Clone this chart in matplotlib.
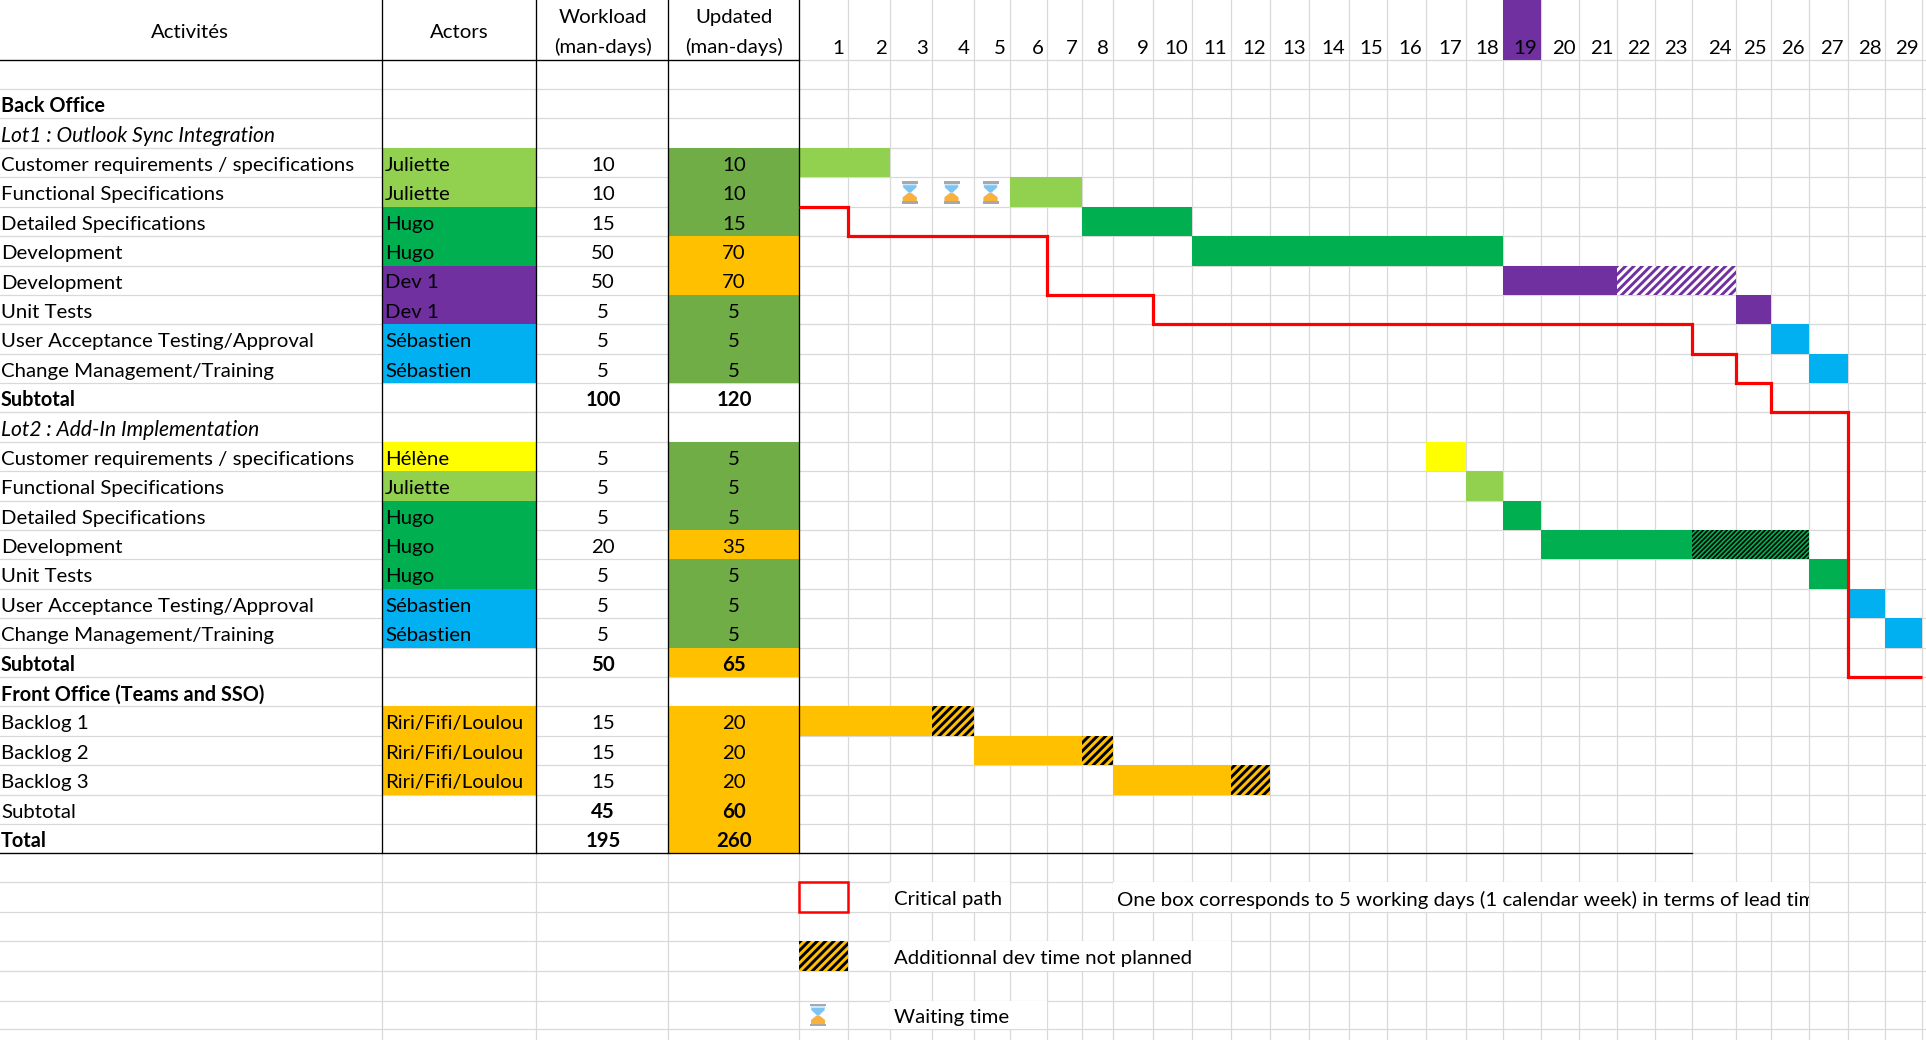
import matplotlib
matplotlib.use('Agg')
import matplotlib.pyplot as plt
from matplotlib.patches import Rectangle, Polygon

plt.rcParams['font.family'] = ['Lato', 'DejaVu Sans']

# table content, one entry per sheet row
activities = ['', 'Back Office', 'Lot1 : Outlook Sync Integration',
              'Customer requirements / specifications', 'Functional Specifications',
              'Detailed Specifications', 'Development', 'Development', 'Unit Tests',
              'User Acceptance Testing/Approval', 'Change Management/Training', 'Subtotal',
              'Lot2 : Add-In Implementation',
              'Customer requirements / specifications', 'Functional Specifications',
              'Detailed Specifications', 'Development', 'Unit Tests',
              'User Acceptance Testing/Approval', 'Change Management/Training', 'Subtotal',
              'Front Office (Teams and SSO)', 'Backlog 1', 'Backlog 2', 'Backlog 3',
              'Subtotal', 'Total']
actors = ['', '', '', 'Juliette', 'Juliette', 'Hugo', 'Hugo', 'Dev 1', 'Dev 1', 'Sébastien',
          'Sébastien', '', '', 'Hélène', 'Juliette', 'Hugo', 'Hugo', 'Hugo', 'Sébastien',
          'Sébastien', '', '', 'Riri/Fifi/Loulou', 'Riri/Fifi/Loulou', 'Riri/Fifi/Loulou',
          '', '']
workload = ['', '', '', 10, 10, 15, 50, 50, 5, 5, 5, 100, '', 5, 5, 5, 20, 5, 5, 5, 50, '',
            15, 15, 15, 45, 195]
updated = ['', '', '', 10, 10, 15, 70, 70, 5, 5, 5, 120, '', 5, 5, 5, 35, 5, 5, 5, 65, '',
           20, 20, 20, 60, 260]
updated_state = ['', '', '', 'ok', 'ok', 'ok', 'late', 'late', 'ok', 'ok', 'ok', '', '',
                 'ok', 'ok', 'ok', 'late', 'ok', 'ok', 'ok', 'late', '',
                 'late', 'late', 'late', 'late', 'late']
bold_rows = [1, 11, 20, 21, 26]
bold_numbers = [11, 20, 25, 26]
italic_rows = [2, 12]
weeks = list(range(1, 30))
highlight_week = 19

# gantt: row, first grid line, last grid line, owner
bars = [(3, 0, 2, 'Juliette'), (4, 5, 7, 'Juliette'), (5, 7, 10, 'Hugo'), (6, 10, 18, 'Hugo'),
        (7, 18, 21, 'Dev 1'), (8, 24, 25, 'Dev 1'), (9, 25, 26, 'Sébastien'),
        (10, 26, 27, 'Sébastien'), (13, 16, 17, 'Hélène'), (14, 17, 18, 'Juliette'),
        (15, 18, 19, 'Hugo'), (16, 19, 23, 'Hugo'), (17, 26, 27, 'Hugo'),
        (18, 27, 28, 'Sébastien'), (19, 28, 29, 'Sébastien'),
        (22, 0, 3, 'Riri/Fifi/Loulou'), (23, 4, 7, 'Riri/Fifi/Loulou'),
        (24, 8, 11, 'Riri/Fifi/Loulou')]
extra_bars = [(7, 21, 24, 'Dev 1'), (16, 23, 26, 'Hugo'), (22, 3, 4, 'Riri/Fifi/Loulou'),
              (23, 7, 8, 'Riri/Fifi/Loulou'), (24, 11, 12, 'Riri/Fifi/Loulou')]
waiting_cells = [2, 3, 4]
waiting_row = 4

# critical path, (grid line, row line)
path_cols = [0, 1, 1, 6, 6, 9, 9, 23, 23, 24, 24, 25, 25, 27, 27, 29]
path_rows = [5, 5, 6, 6, 8, 8, 9, 9, 10, 10, 11, 11, 12, 12, 21, 21]

legend_note = 'One box corresponds to 5 working days (1 calendar week) in terms of lead time'

colors = {'Juliette': '#92D050', 'Hugo': '#00B050', 'Dev 1': '#7030A0', 'Sébastien': '#00B0F0',
          'Hélène': '#FFFF00', 'Riri/Fifi/Loulou': '#FFC000', 'ok': '#70AD47', 'late': '#FFC000'}
grid_col = '#D9D9D9'

# sheet geometry in pixels
col_x = [0, 382, 536, 668, 799]
week_x = [799, 848, 890, 931.5, 973.5, 1009.5, 1047, 1081.5, 1112.5, 1152.5, 1191.5, 1230.5,
          1270, 1309, 1348.5, 1386.5, 1426, 1465.5, 1502.5, 1540.5, 1579, 1617, 1654.5, 1691.5,
          1735.5, 1770.5, 1808.5, 1847.5, 1885, 1922]
row_y = [60.3, 89.3, 118.3, 148.3, 177.3, 207.3, 236.3, 265.7, 295.3, 324.3, 354.3, 383.3,
         412.3, 442.3, 471.3, 501.3, 530.3, 559.3, 589.3, 618.3, 648.3, 677.3, 706.3, 736,
         765.3, 795.3, 824.3, 853.3, 882.3, 912.3, 941.3, 971.3, 1000.7, 1029.3]
fs = 14.65
text_dy = 2.5
head_dy = 1.5

fig = plt.figure(figsize=(19.26, 10.4), dpi=100)
ax = fig.add_axes([0, 0, 1, 1])
ax.set_xlim(0, 1926)
ax.set_ylim(1040, 0)
ax.axis('off')


def cell(x0, x1, r0, r1, color, z=2, **kw):
    ax.add_patch(Rectangle((x0, row_y[r0]), x1 - x0, row_y[r1] - row_y[r0], facecolor=color,
                           edgecolor='none', zorder=z, **kw))


def hatched(x0, x1, r, face, stripe, hatch, lw):
    plt.rcParams['hatch.linewidth'] = lw
    ax.add_patch(Rectangle((x0, row_y[r]), x1 - x0, row_y[r + 1] - row_y[r], facecolor=face,
                           edgecolor=stripe, hatch=hatch, linewidth=0, zorder=2))


def hourglass(cx, cy):
    # little emoji-like icon, 16 x 22 px
    ax.add_patch(Polygon([(cx - 7, cy - 9), (cx + 7, cy - 9), (cx + 7, cy - 5), (cx + 1.5, cy),
                          (cx + 7, cy + 5), (cx + 7, cy + 9), (cx - 7, cy + 9), (cx - 7, cy + 5),
                          (cx - 1.5, cy), (cx - 7, cy - 5)], facecolor='#CFE6F7', edgecolor='none', zorder=3))
    ax.add_patch(Polygon([(cx - 6.5, cy - 7), (cx + 6.5, cy - 7), (cx + 6.5, cy - 5), (cx + 1.2, cy),
                          (cx - 1.2, cy), (cx - 6.5, cy - 5)],
                         facecolor='#7CC4F2', edgecolor='none', zorder=3))
    ax.add_patch(Polygon([(cx - 7, cy + 9), (cx + 7, cy + 9), (cx + 7, cy + 5), (cx + 1, cy + 0.5),
                          (cx - 1, cy + 0.5), (cx - 7, cy + 5)], facecolor='#F9B13C', edgecolor='none', zorder=3))
    for y in (cy - 11, cy + 9):
        ax.add_patch(Rectangle((cx - 8, y), 16, 2.3, facecolor='#A5A9AD', edgecolor='none', zorder=3))


# grid
for y in row_y:
    ax.plot([0, 1926], [y, y], color=grid_col, lw=0.9, zorder=1)
for x in week_x[1:]:
    ax.plot([x, x], [0, 1040], color=grid_col, lw=0.9, zorder=1)
for x in col_x[1:]:
    ax.plot([x, x], [row_y[27], 1040], color=grid_col, lw=0.9, zorder=1)

# table fills and text
for i, label in enumerate(activities):
    yc = (row_y[i] + row_y[i + 1]) / 2 + text_dy
    if actors[i]:
        cell(col_x[1], col_x[2], i, i + 1, colors[actors[i]])
        ax.text(col_x[1] + 3, yc, actors[i], fontsize=fs, va='center', ha='left', zorder=5)
    if updated_state[i]:
        cell(col_x[3], col_x[4], i, i + 1, colors[updated_state[i]])
    weight = 'bold' if i in bold_rows else 'normal'
    style = 'italic' if i in italic_rows else 'normal'
    size = fs * 0.975 if i in bold_rows else fs * 1.035 if i in italic_rows else fs
    ax.text(1, yc, label, fontsize=size, va='center', ha='left', fontweight=weight, fontstyle=style, zorder=5)
    num_weight = 'bold' if i in bold_numbers else 'normal'
    ax.text(603, yc, str(workload[i]), fontsize=fs, va='center', ha='center', fontweight=num_weight, zorder=5)
    ax.text(734, yc, str(updated[i]), fontsize=fs, va='center', ha='center', fontweight=num_weight, zorder=5)

# header
ax.text(190, 31 + head_dy, 'Activités', fontsize=fs, va='center', ha='center')
ax.text(459, 31 + head_dy, 'Actors', fontsize=fs, va='center', ha='center')
for xc, name in ((603, 'Workload'), (734, 'Updated')):
    ax.text(xc, 16 + head_dy, name, fontsize=fs, va='center', ha='center')
    ax.text(xc, 45 + head_dy, '(man-days)', fontsize=fs, va='center', ha='center')
for w in weeks:
    if w == highlight_week:
        ax.add_patch(Rectangle((week_x[w - 1], 0), week_x[w] - week_x[w - 1], row_y[0],
                               facecolor=colors['Dev 1'], edgecolor='none', zorder=2))
    ax.text(week_x[w] - 3.5, 47 + head_dy, str(w), fontsize=fs, va='center', ha='right', zorder=5)

# black table rules
ax.plot([0, col_x[4]], [row_y[0], row_y[0]], color='black', lw=0.95, zorder=4)
ax.plot([0, week_x[23]], [row_y[27], row_y[27]], color='black', lw=0.95, zorder=4)
for x in col_x[1:]:
    ax.plot([x, x], [0, row_y[27]], color='black', lw=0.95, zorder=4)

# gantt
for r, a, b, who in bars:
    cell(week_x[a], week_x[b], r, r + 1, colors[who])
for r, a, b, who in extra_bars:
    if who == 'Dev 1':
        hatched(week_x[a], week_x[b], r, 'white', colors[who], '////', 2.1)
    elif who == 'Hugo':
        hatched(week_x[a], week_x[b], r, colors[who], 'black', '///////', 1.2)
    else:
        hatched(week_x[a], week_x[b], r, colors[who], 'black', '////', 2.1)
for c in waiting_cells:
    hourglass((week_x[c] + week_x[c + 1]) / 2 - 1, (row_y[waiting_row] + row_y[waiting_row + 1]) / 2)
ax.plot([week_x[c] for c in path_cols], [row_y[r] for r in path_rows], color='#FF0000',
        lw=2.3, solid_joinstyle='miter', solid_capstyle='butt', zorder=6)

# legend
ax.add_patch(Rectangle((week_x[0], row_y[28]), week_x[1] - week_x[0], row_y[29] - row_y[28],
                       facecolor='white', edgecolor='#FF0000', lw=1.8, zorder=6))
hatched(week_x[0], week_x[1], 30, colors['late'], 'black', '////', 2.1)
hourglass(818, (row_y[32] + row_y[33]) / 2)
# overflowing text hides the cell borders under it
cell(week_x[2], week_x[5], 28, 29, 'white', z=1.5)
cell(week_x[8], week_x[26], 28, 29, 'white', z=1.5)
cell(week_x[2], week_x[11], 30, 31, 'white', z=1.5)
cell(week_x[2], week_x[6], 32, 33, 'white', z=1.5)
leg_y = [(row_y[r] + row_y[r + 1]) / 2 + text_dy for r in (28, 30, 32)]
ax.text(894, leg_y[0], 'Critical path', fontsize=fs, va='center', ha='left', zorder=5)
ax.text(894, leg_y[1], 'Additionnal dev time not planned', fontsize=fs, va='center', ha='left', zorder=5)
ax.text(894, leg_y[2], 'Waiting time', fontsize=fs, va='center', ha='left', zorder=5)
note = ax.text(1117, leg_y[0], legend_note, fontsize=fs, va='center', ha='left', zorder=5)
note.set_clip_on(True)
note.set_clip_path(Rectangle((week_x[8], row_y[28]), week_x[26] - week_x[8], row_y[29] - row_y[28],
                             transform=ax.transData))

fig.savefig('out.png', dpi=100)
